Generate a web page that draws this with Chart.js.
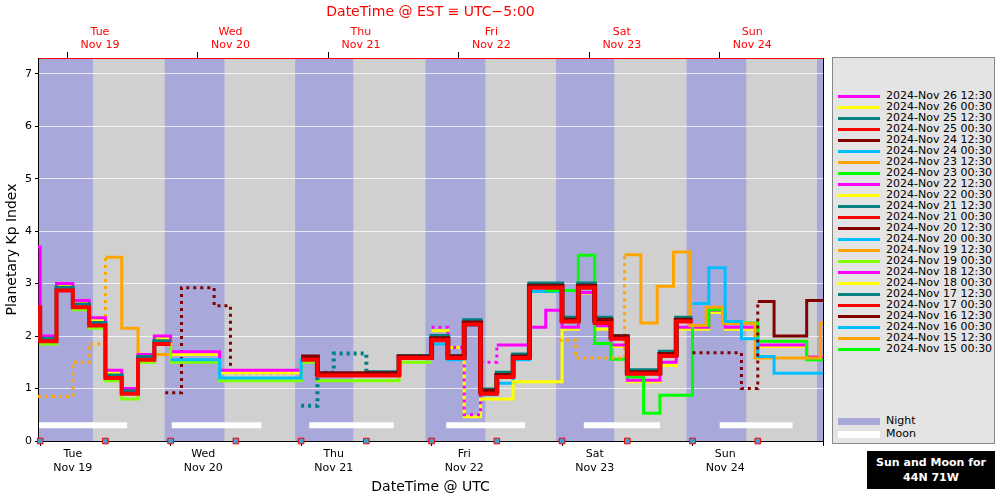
<!DOCTYPE html>
<html>
<head>
<meta charset="utf-8">
<script src="https://cdn.jsdelivr.net/npm/chart.js@4.4.1/dist/chart.umd.min.js"></script>
<style>
  body { margin: 0; background: #fff; font-family: "DejaVu Sans", sans-serif; }
  #wrap { position: absolute; left: 0; top: 0; width: 828px; height: 500px; }
  #legend { position: absolute; left: 832px; top: 57px; width: 161px; height: 385px; background: #e4e4e4; border: 1px solid #888; }
  .item { position: absolute; left: 5px; height: 11px; font-size: 11px; line-height: 11px; color: #000; white-space: nowrap; }
  .item .sw { display: inline-block; width: 42px; height: 3px; vertical-align: middle; margin-right: 6px; }
  #sunbox { position: absolute; left: 867px; top: 451px; width: 128px; height: 38px; background: #000; color: #fff; font-weight: bold; font-size: 11px; text-align: center; line-height: 15px; padding-top: 4px; box-sizing: border-box; }
</style>
</head>
<body>
<div id="wrap"><canvas id="kpChart" width="828" height="500"></canvas></div>
<div id="legend"></div>
<div id="sunbox">Sun and Moon for<br>44N 71W</div>
<script>
// Метки прогнозов (порядок легенды)
const issueLabels = [
    "2024-Nov 26 12:30", "2024-Nov 26 00:30", "2024-Nov 25 12:30", "2024-Nov 25 00:30",
    "2024-Nov 24 12:30", "2024-Nov 24 00:30", "2024-Nov 23 12:30", "2024-Nov 23 00:30",
    "2024-Nov 22 12:30", "2024-Nov 22 00:30", "2024-Nov 21 12:30", "2024-Nov 21 00:30",
    "2024-Nov 20 12:30", "2024-Nov 20 00:30", "2024-Nov 19 12:30", "2024-Nov 19 00:30",
    "2024-Nov 18 12:30", "2024-Nov 18 00:30", "2024-Nov 17 12:30", "2024-Nov 17 00:30",
    "2024-Nov 16 12:30", "2024-Nov 16 00:30", "2024-Nov 15 12:30", "2024-Nov 15 00:30"
];
const lineColors = [
    "#ff00ff", "#ffff00", "#008080", "#ff0000", "#800000", "#00bfff", "#ffa500", "#00ff00",
    "#ff00ff", "#ffff00", "#008080", "#ff0000", "#800000", "#00bfff", "#ffa500", "#7fff00",
    "#ff00ff", "#ffff00", "#008080", "#ff0000", "#800000", "#00bfff", "#ffa500", "#00ff00"
];

// Начало каждого ряда (часы от Nov 19 00:00 UTC), шаг 3 часа
const startHours = [null, null, null, null, 120, 120, 95.5, 93, 72, 72, 48, 48, 48, 24, null, 0, -3, 0, -3, -3, 23, -3, -3, null];
// До какого часа линия пунктирная
const dashUntil = [null, null, null, null, 132, null, 107.5, null, 84, null, 60, null, null, null, null, null, null, null, null, null, 47, null, 12, null];

// Значения Kp (по 3 часа)
const kpNov24_1230 = [1.68, 1.68, 1.68, 1.0, 2.66, 2.0, 2.0, 2.68];
const kpNov24_0030 = [2.62, 3.3, 2.28, 1.95, 1.61, 1.29, 1.29, 1.29];
const kpNov23_1230 = [1.92, 1.58, 1.58, 1.58, 3.55, 2.25, 2.95, 3.6, 2.2, 2.55, 2.24, 2.24, 1.58, 1.58, 1.58, 1.58, 2.25];
const kpNov23_0030 = [2.87, 2.87, 3.54, 1.86, 1.56, 1.22, 0.53, 0.87, 0.87, 2.2, 2.5, 2.25, 2.25, 1.9, 1.9, 1.9, 1.55];
const kpNov22_1230 = [2.17, 1.78, 0.5, 1.5, 1.83, 1.83, 2.17, 2.49, 2.17, 2.83, 2.2, 1.83, 1.16, 1.16, 1.5, 2.17, 2.17, 2.49, 2.17, 2.17, 1.83, 1.83, 1.83, 1.6];
const kpNov22_0030 = [2.1, 1.78, 0.46, 0.8, 0.8, 1.13, 1.13, 1.13, 2.13, 2.82, 2.13, 1.8, 1.13, 1.13, 1.44, 2.13, 2.13, 2.45, 2.13, 2.13, 1.8, 1.8, 1.8, 1.6];
const kpNov21_1230 = [0.67, 1.3, 1.67, 1.67, 1.31, 1.31, 1.62, 1.62, 2.0, 1.62, 2.3, 0.98, 1.3, 1.65, 3.0, 3.0, 2.35, 3.0, 2.35, 2.0, 1.35, 1.35, 1.7, 2.35];
const kpNov21_0030 = [1.55, 1.25, 1.25, 1.25, 1.25, 1.25, 1.58, 1.58, 1.92, 1.58, 2.22, 0.9, 1.22, 1.58, 2.92, 2.92, 2.28, 2.92, 2.25, 1.95, 1.28, 1.28, 1.62, 2.28];
const kpNov20_1230 = [1.6, 1.28, 1.28, 1.28, 1.28, 1.28, 1.6, 1.6, 1.95, 1.6, 2.25, 0.95, 1.25, 1.6, 2.95, 2.95, 2.3, 2.95, 2.3, 1.98, 1.3, 1.3, 1.65, 2.3];
const kpNov20_0030 = [1.55, 1.55, 1.55, 1.2, 1.2, 1.2, 1.2, 1.2, 1.55, 1.25, 1.25, 1.25, 1.25, 1.25, 1.6, 1.6, 1.85, 1.55, 2.2, 0.88, 1.1, 1.55, 2.85, 2.85];
const kpNov19_0030 = [1.85, 2.88, 2.5, 2.15, 1.15, 0.8, 1.5, 1.85, 1.5, 1.5, 1.5, 1.15, 1.15, 1.15, 1.15, 1.15, 1.5, 1.15, 1.15, 1.15, 1.15, 1.15, 1.5, 1.5];
const kpNov18_1230 = [3.7, 2.0, 3.0, 2.68, 2.35, 1.35, 1.0, 1.65, 2.0, 1.7, 1.7, 1.7, 1.35, 1.35, 1.35, 1.35, 1.35];
const kpNov18_0030 = [1.95, 2.95, 2.62, 2.3, 1.3, 1.0, 1.6, 1.95, 1.65, 1.65, 1.65, 1.3, 1.3, 1.3, 1.3, 1.3];
const kpNov17_1230 = [2.5, 1.95, 2.92, 2.6, 2.25, 1.25, 0.95, 1.6, 1.9];
const kpNov17_0030 = [2.55, 1.9, 2.87, 2.55, 2.2, 1.2, 0.9, 1.55, 1.85];
const kpNov16_1230 = [0.92, 2.92, 2.92, 2.58, 1.3, 1.3, 1.3, 1.3];
const kpNov16_0030 = [2.5, 1.9, 2.9, 2.6, 2.25, 1.25, 0.92, 1.6, 1.9];
const kpNov15_1230 = [0.85, 0.85, 0.85, 1.5, 1.85, 3.5, 2.15, 1.65, 1.65];

const kpSeries = [
    [], [], [], [], kpNov24_1230, kpNov24_0030, kpNov23_1230, kpNov23_0030,
    kpNov22_1230, kpNov22_0030, kpNov21_1230, kpNov21_0030, kpNov20_1230, kpNov20_0030, [], kpNov19_0030,
    kpNov18_1230, kpNov18_0030, kpNov17_1230, kpNov17_0030, kpNov16_1230, kpNov16_0030, kpNov15_1230, []
];
const lineWidths = [3, 3, 3, 3, 3, 3, 3, 3, 3, 3, 4, 4, 5, 3, 3, 3, 3, 3, 4, 4, 3, 3, 3, 3];
// Порядок отрисовки (меньше — выше)
const drawOrder = [0, 0, 0, 0, -3, -3, -3, -3, -3, -3, -4, -8, -5, -3, 0, -3, -3, -3, -4, -8, -3, -3, -3, 0];

// Ночь, Луна, маркеры восхода/заката (часы UTC)
const nightStart = [-1.1, 22.9, 46.9, 70.9, 94.9, 118.9, 142.9];
const nightEnd = [9.7, 33.9, 57.6, 81.9, 105.6, 129.9, 153];
const moonStart = [-0.4, 24.2, 49.5, 74.7, 100, 125];
const moonEnd = [16, 40.7, 65, 89.2, 114, 138.4];
const markerHours = [0, 12, 24, 36, 48, 60, 72, 84, 96, 108, 120, 132];

// Подписи осей
const dayNames = ["Tue", "Wed", "Thu", "Fri", "Sat", "Sun"];
const dayDates = ["Nov 19", "Nov 20", "Nov 21", "Nov 22", "Nov 23", "Nov 24"];
const utcTickHours = [0, 24, 48, 72, 96, 120, 144];
const utcLabelHours = [6, 30, 54, 78, 102, 126];
const estTickHours = [5, 29, 53, 77, 101, 125];
const estLabelHours = [11, 35, 59, 83, 107, 131];
const yTicks = [0, 1, 2, 3, 4, 5, 6, 7];

const FONT = "DejaVu Sans";

function stepPoints(start, vals) {
    const pts = vals.map((v, i) => ({ x: start + 3 * i, y: v }));
    if (vals.length) pts.push({ x: start + 3 * vals.length, y: vals[vals.length - 1] });
    return pts;
}

// Фон: день/ночь и Луна
const backgroundPlugin = {
    id: "sunMoon",
    beforeDraw(chart) {
        const { ctx, chartArea: a, scales } = chart;
        const xs = scales.x, ys = scales.y;
        ctx.save();
        ctx.fillStyle = "#d0d0d0";
        ctx.fillRect(a.left, a.top, a.right - a.left, a.bottom - a.top);
        ctx.beginPath();
        ctx.rect(a.left, a.top, a.right - a.left, a.bottom - a.top);
        ctx.clip();
        ctx.fillStyle = "#a8a8da";
        nightStart.forEach((s, i) => {
            const x1 = xs.getPixelForValue(s), x2 = xs.getPixelForValue(nightEnd[i]);
            ctx.fillRect(x1, a.top, x2 - x1, a.bottom - a.top);
        });
        ctx.fillStyle = "#ffffff";
        const yMoon = ys.getPixelForValue(0.3);
        moonStart.forEach((s, i) => {
            const x1 = xs.getPixelForValue(s), x2 = xs.getPixelForValue(moonEnd[i]);
            ctx.fillRect(x1, yMoon - 3, x2 - x1, 6);
        });
        ctx.restore();
    },
    afterDraw(chart) {
        const { ctx, chartArea: a } = chart;
        ctx.save();
        ctx.strokeStyle = "#000";
        ctx.lineWidth = 1;
        ctx.beginPath();
        ctx.moveTo(a.right + 0.5, a.top);
        ctx.lineTo(a.right + 0.5, a.bottom);
        ctx.stroke();
        ctx.restore();
    }
};

const datasets = [];
kpSeries.forEach((vals, i) => {
    if (!vals.length || startHours[i] === null) return;
    const cut = dashUntil[i];
    datasets.push({
        label: issueLabels[i],
        data: stepPoints(startHours[i], vals),
        borderColor: lineColors[i],
        borderWidth: lineWidths[i],
        stepped: "before",
        pointRadius: 0,
        fill: false,
        order: drawOrder[i],
        segment: {
            borderDash: c => (cut !== null && c.p1.parsed.x <= cut + 0.01) ? [3, 4] : undefined
        }
    });
});
datasets.push({
    type: "scatter",
    label: "markers",
    data: markerHours.map(h => ({ x: h, y: 0 })),
    pointStyle: "rect",
    pointRadius: 4,
    backgroundColor: "#3f9fd0",
    borderColor: "#ff0000",
    borderWidth: 1,
    clip: false,
    order: -10
});

new Chart(document.getElementById("kpChart"), {
    type: "line",
    data: { datasets },
    plugins: [backgroundPlugin],
    options: {
        responsive: false,
        animation: false,
        layout: { padding: { right: 3 } },
        plugins: { legend: { display: false }, tooltip: { enabled: false } },
        scales: {
            x: {
                type: "linear", position: "bottom", min: -0.4, max: 144,
                afterBuildTicks: ax => {
                    ax.ticks = utcTickHours.concat(utcLabelHours).sort((p, q) => p - q).map(v => ({ value: v }));
                },
                afterFit: ax => { ax.height = 59; },
                ticks: {
                    autoSkip: false, maxRotation: 0, padding: 2,
                    color: "#000", font: { family: FONT, size: 11 },
                    callback: v => {
                        const k = utcLabelHours.indexOf(v);
                        return k >= 0 ? [dayNames[k], dayDates[k]] : "";
                    }
                },
                grid: {
                    drawOnChartArea: false, tickLength: 5,
                    tickColor: c => (c.tick && utcTickHours.includes(c.tick.value)) ? "#000" : "rgba(0,0,0,0)"
                },
                border: { color: "#000" },
                title: { display: true, text: "DateTime @ UTC", color: "#000", font: { family: FONT, size: 14 }, padding: { top: 2 } }
            },
            x2: {
                type: "linear", position: "top", min: -0.4, max: 144,
                afterBuildTicks: ax => {
                    ax.ticks = estTickHours.concat(estLabelHours).sort((p, q) => p - q).map(v => ({ value: v }));
                },
                afterFit: ax => { ax.height = 58; },
                ticks: {
                    autoSkip: false, maxRotation: 0, padding: 0,
                    color: "#ff0000", font: { family: FONT, size: 11 },
                    callback: v => {
                        const k = estLabelHours.indexOf(v);
                        return k >= 0 ? [dayNames[k], dayDates[k]] : "";
                    }
                },
                grid: {
                    drawOnChartArea: false, tickLength: 6,
                    tickColor: c => (c.tick && estTickHours.includes(c.tick.value)) ? "#000" : "rgba(0,0,0,0)"
                },
                border: { color: "#ff0000" },
                title: { display: true, text: "DateTime @ EST \u2261 UTC\u22125:00", color: "#ff0000", font: { family: FONT, size: 14 }, padding: { top: 4, bottom: 2 } }
            },
            y: {
                min: 0, max: 7.3,
                afterBuildTicks: ax => { ax.ticks = yTicks.map(v => ({ value: v })); },
                afterFit: ax => { ax.width = 38; },
                ticks: { color: "#000", font: { family: FONT, size: 11 }, padding: 3 },
                grid: { color: "rgba(255,255,255,0.75)", lineWidth: 1, tickLength: 3, tickColor: "#000" },
                border: { color: "#000" },
                title: { display: true, text: "Planetary Kp Index", color: "#000", font: { family: FONT, size: 14 }, padding: { bottom: 0 } }
            }
        }
    }
});

// Легенда справа
const legend = document.getElementById("legend");
issueLabels.forEach((lab, i) => {
    const d = document.createElement("div");
    d.className = "item";
    d.style.top = (32 + i * 11) + "px";
    d.innerHTML = `<span class="sw" style="background:${lineColors[i]}"></span>${lab}`;
    legend.appendChild(d);
});
[["Night", "#a8a8da", 357], ["Moon", "#ffffff", 370]].forEach(([lab, col, top]) => {
    const d = document.createElement("div");
    d.className = "item";
    d.style.top = top + "px";
    d.innerHTML = `<span class="sw" style="background:${col};height:7px"></span>${lab}`;
    legend.appendChild(d);
});
</script>
</body>
</html>
